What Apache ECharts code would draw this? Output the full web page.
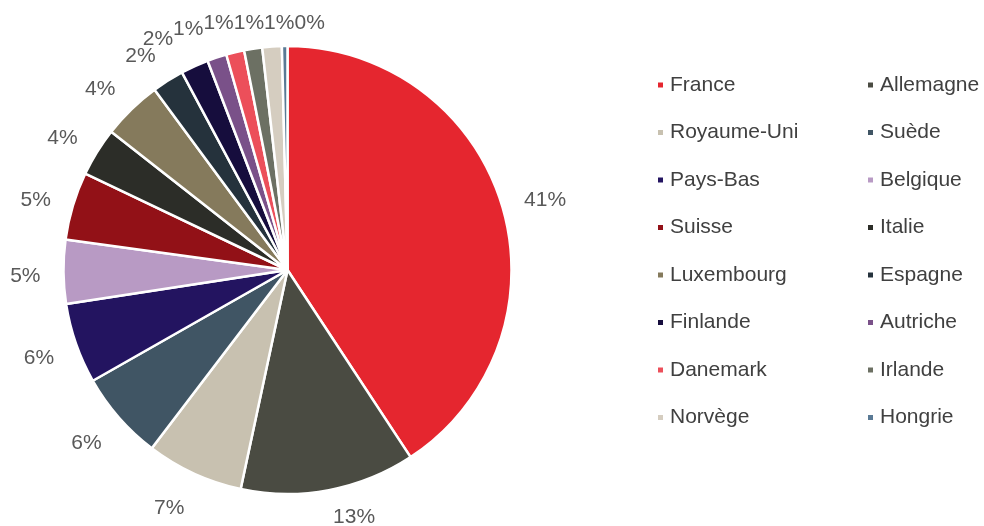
<!DOCTYPE html>
<html>
<head>
<meta charset="utf-8">
<script src="https://cdn.jsdelivr.net/npm/echarts@6/dist/echarts.min.js"></script>
<style>
  html, body { margin: 0; padding: 0; background: #fff; }
  #chart { width: 984px; height: 526px; }
</style>
</head>
<body>
<div id="chart"></div>
<script>
const countries = ['France', 'Allemagne', 'Royaume-Uni', 'Suède', 'Pays-Bas', 'Belgique', 'Suisse', 'Italie',
  'Luxembourg', 'Espagne', 'Finlande', 'Autriche', 'Danemark', 'Irlande', 'Norvège', 'Hongrie'];
const shares = [40.7, 12.6, 7.0, 6.4, 5.8, 4.6, 4.9, 3.5, 4.3, 2.3, 2.0, 1.4, 1.3, 1.3, 1.4, 0.4];

const palette = ['#e5262f', '#4a4b42', '#c8c1b0', '#405564', '#231460', '#b89ac4', '#921117', '#2c2d28',
  '#857a5c', '#25323c', '#160d3d', '#7a5189', '#ec4f5a', '#6c7063', '#d5cdc0', '#5a7a95'];

const chartDom = document.getElementById('chart');
const myChart = echarts.init(chartDom);

const font = "'Liberation Sans', Arial, sans-serif";
const legendText = {
  color: '#404040',
  fontFamily: font,
  fontSize: 21,
  lineHeight: 24,
  padding: [0, 0, 0, 1]
};

const pieCenter = [287.5, 270];
const pieRadius = 224;
const labelGap = 23;

const pieData = countries.map((c, i) => ({ name: c, value: shares[i] }));

// put each label just outside its slice (box edge at a fixed gap), keep it in the picture,
// and spread the crowded ones on top sideways
function placeLabel(params) {
  const r = params.labelRect;
  const dx = r.x + r.width / 2 - pieCenter[0];
  const dy = r.y + r.height / 2 - pieCenter[1];
  const d = Math.sqrt(dx * dx + dy * dy);
  const ex = pieCenter[0] + dx / d * (pieRadius + labelGap);
  const ey = pieCenter[1] + dy / d * (pieRadius + labelGap);
  const x = ex + (dx < 0 ? -1 : 1) * r.width / 2;
  let y = ey + dy / d * 10.5 + 4;
  const crowded = y < 40;
  y = Math.min(Math.max(y, 23.5), 517);
  if (crowded) {
    return { x: x - 12, y: y, moveOverlap: 'shiftX' };
  }
  return { x: x, y: y };
}

const option = {
  animation: false,
  color: palette,
  legend: [
    {
      orient: 'vertical',
      left: 656,
      top: 73,
      padding: 0,
      icon: 'rect',
      itemWidth: 7,
      itemHeight: 7,
      itemGap: 23.5,
      textStyle: legendText,
      data: countries.filter((c, i) => i % 2 === 0)
    },
    {
      orient: 'vertical',
      left: 866,
      top: 73,
      padding: 0,
      icon: 'rect',
      itemWidth: 7,
      itemHeight: 7,
      itemGap: 23.5,
      textStyle: legendText,
      data: countries.filter((c, i) => i % 2 === 1)
    }
  ],
  series: [
    {
      type: 'pie',
      center: pieCenter,
      radius: pieRadius,
      startAngle: 90,
      itemStyle: {
        borderColor: '#fff',
        borderWidth: 2.5
      },
      label: { show: false },
      labelLine: { show: false },
      data: pieData
    },
    // invisible ring, only used to carry the percent labels
    {
      type: 'pie',
      center: pieCenter,
      radius: [pieRadius, pieRadius + 80],
      startAngle: 90,
      silent: true,
      itemStyle: { color: 'transparent' },
      emphasis: { disabled: true },
      label: {
        show: true,
        position: 'inside',
        color: '#595959',
        fontFamily: font,
        fontSize: 21,
        formatter: p => Math.round(p.value) + '%'
      },
      labelLine: { show: false },
      labelLayout: placeLabel,
      data: pieData
    }
  ]
};

myChart.setOption(option);
</script>
</body>
</html>
